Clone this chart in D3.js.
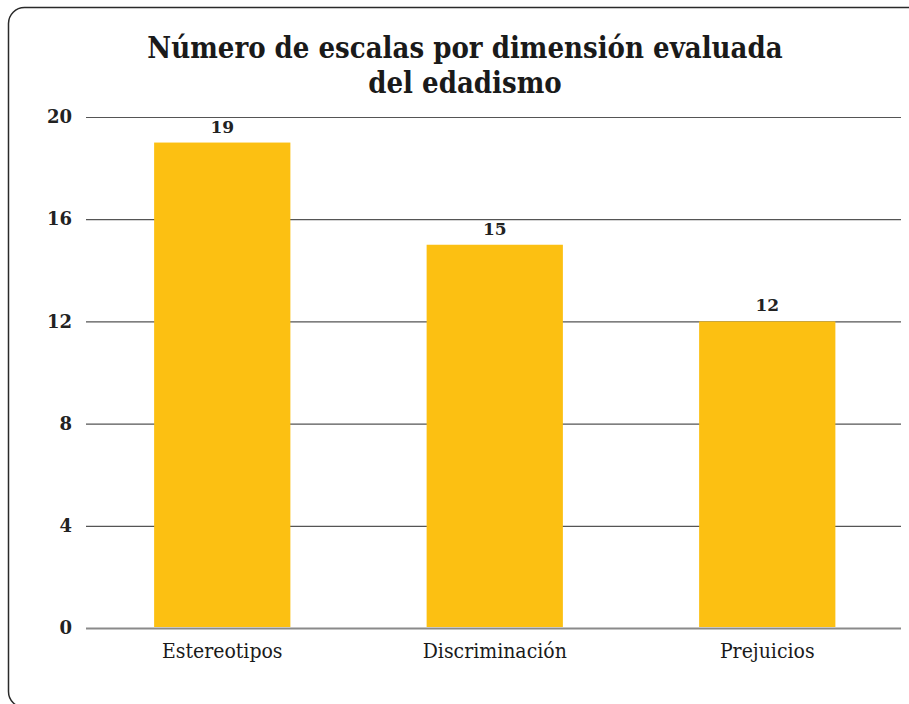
<!DOCTYPE html>
<html>
<head>
<meta charset="utf-8">
<script src="https://cdn.jsdelivr.net/npm/d3@7"></script>
<style>
  body { margin: 0; background: #fff; }
  svg { display: block; }
</style>
</head>
<body>
<svg id="chart"></svg>
<script>
// data
let categories = ["Estereotipos", "Discriminación", "Prejuicios"];
let values = [19, 15, 12];
let yTicks = [0, 4, 8, 12, 16, 20];
let titleLines = ["Número de escalas por dimensión evaluada", "del edadismo"];

function makeChart() {
    let w = 909;
    let h = 704;

    let svg = d3.select("#chart")
        .attr("width", w)
        .attr("height", h);

    // rounded frame, runs off right/bottom edge
    svg.append("rect")
        .attr("x", 8.5)
        .attr("y", 7.5)
        .attr("width", 916)
        .attr("height", 700)
        .attr("rx", 16)
        .attr("fill", "none")
        .attr("stroke", "#2a2a2a")
        .attr("stroke-width", 1.5);

    // title
    svg.append("text")
        .attr("x", 465)
        .attr("y", 58)
        .attr("text-anchor", "middle")
        .style("font-family", "'DejaVu Serif Condensed', 'DejaVu Serif', serif")
        .style("font-weight", "bold")
        .style("font-size", "29px")
        .attr("fill", "#1a1a1a")
        .selectAll("tspan")
        .data(titleLines)
        .join("tspan")
            .attr("x", 465)
            .attr("dy", (d, i) => i == 0 ? 0 : 35)
            .text(d => d);

    // scales
    let xScale = d3.scaleBand()
        .domain(categories)
        .range([86, 903.5])
        .paddingInner(0.5)
        .paddingOuter(0.25);

    let yScale = d3.scaleLinear()
        .domain([0, 20])
        .range([628, 117]);

    // gridlines
    let yAxis = d3.axisLeft(yScale)
        .tickValues(yTicks)
        .tickSize(-815)
        .tickPadding(14)
        .tickFormat(d3.format("d"));
    let yAxisGroup = svg.append("g")
        .attr("transform", "translate(86,0)")
        .call(yAxis);
    yAxisGroup.select(".domain").remove();
    yAxisGroup.selectAll(".tick line")
        .attr("stroke", d => d == 0 ? "#8a8a8a" : "#555")
        .attr("stroke-width", d => d == 0 ? 2 : 1.2);
    yAxisGroup.selectAll(".tick text")
        .style("font-family", "'DejaVu Serif', serif")
        .style("font-weight", "bold")
        .style("font-size", "18px")
        .attr("fill", "#222");

    // bars
    svg.append("g")
        .selectAll("rect")
        .data(values)
        .join("rect")
            .attr("x", (d, i) => xScale(categories[i]))
            .attr("y", d => yScale(d))
            .attr("width", xScale.bandwidth())
            .attr("height", d => yScale(0) - yScale(d) - 1)
            .attr("fill", "#FCC012");

    // value labels
    svg.append("g")
        .selectAll("text")
        .data(values)
        .join("text")
            .attr("x", (d, i) => xScale(categories[i]) + xScale.bandwidth() / 2)
            .attr("y", d => yScale(d) - 10)
            .attr("text-anchor", "middle")
            .style("font-family", "'DejaVu Serif', serif")
            .style("font-weight", "bold")
            .style("font-size", "17px")
            .attr("fill", "#222")
            .text(d => d);

    // category labels
    let xAxis = d3.axisBottom(xScale)
        .tickSize(0)
        .tickPadding(15);
    let xAxisGroup = svg.append("g")
        .attr("transform", "translate(0,628)")
        .call(xAxis);
    xAxisGroup.select(".domain").remove();
    xAxisGroup.selectAll(".tick text")
        .style("font-family", "'DejaVu Serif Condensed', 'DejaVu Serif', serif")
        .style("font-size", "21px")
        .attr("fill", "#1a1a1a");
}

window.onload = function() {
    makeChart();
}
</script>
</body>
</html>
